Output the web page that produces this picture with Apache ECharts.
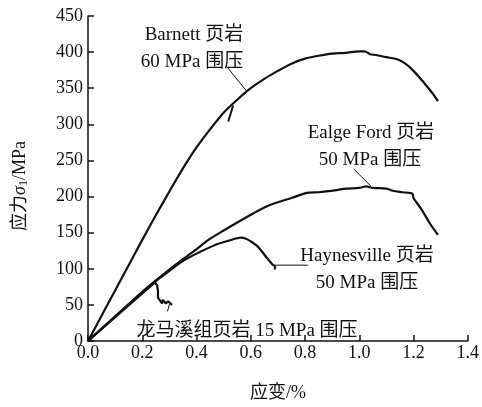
<!DOCTYPE html>
<html><head><meta charset="utf-8">
<script src="https://cdn.jsdelivr.net/npm/echarts@6/dist/echarts.min.js"></script>
<style>html,body{margin:0;padding:0;background:#fff}#c{width:482px;height:407px}</style>
</head><body><div id="c"></div>
<script>
var xTicks = ['0.0','0.2','0.4','0.6','0.8','1.0','1.2','1.4'];
var yTicks = [0,50,100,150,200,250,300,350,400,450];

var barnettX = [0,0.05,0.1,0.15,0.2,0.25,0.3,0.35,0.4,0.45,0.5,0.55,0.6,0.65,0.7,0.75,0.8,0.85,0.9,0.95,1.0,1.02,1.04,1.06,1.1,1.14,1.17,1.2,1.24,1.27,1.29];
var barnettY = [0,35,70,105,140,174,207,239,268,293,316,334,350,363,374,384,391,395,398,399,401,401,397,396,393,390,384,374,357,343,332];
var barnettHookX = [0.535,0.517];
var barnettHookY = [326,304];

var eagleX = [0,0.05,0.1,0.15,0.2,0.25,0.3,0.342,0.393,0.444,0.5,0.578,0.662,0.75,0.807,0.85,0.916,0.95,1.0,1.025,1.05,1.1,1.124,1.16,1.196,1.2,1.23,1.26,1.29];
var eagleY = [0,17,34,51,68,84,99,111,125,140,153,170,187,198,205,206,209,211,212,214,212,211,208,206,204,198,182,163,147];

var hayX = [0,0.1,0.2,0.25,0.3,0.342,0.4,0.469,0.52,0.564,0.58,0.6,0.625,0.662,0.68,0.69,0.688];
var hayY = [0,34,67,83,97,109,121,133,139,143,142,138,131,114,106,103,99];

var lmxX = [0,0.1,0.2,0.247,0.255,0.258,0.258,0.273,0.276,0.287,0.295,0.31];
var lmxY = [0,33,66,81,77,69,60,52,57,52,55,50];

var leaderBarnettX = [0.509,0.585], leaderBarnettY = [381,346];
var leaderEagleX = [0.98,1.044], leaderEagleY = [238,214];
var leaderHayX = [0.69,0.81], leaderHayY = [105,105];
var leaderLmxX = [0.3,0.293], leaderLmxY = [51,41];

function pairs(xs, ys){ return xs.map(function(x,i){return [x, ys[i]];}); }

var FONT = '"Liberation Serif","Times New Roman","Noto Sans CJK SC",serif';
var chart = echarts.init(document.getElementById('c'));
function line(xs, ys, w, sm){
  return {type:'line', data:pairs(xs,ys), showSymbol:false, symbol:'none', smooth:sm||false,
    lineStyle:{color:'#111', width:w}, silent:true, animation:false};
}
function txt(t, x, y){
  return {type:'text', style:{text:t, x:x, y:y, align:'center', verticalAlign:'middle',
    font:'19px ' + FONT, fill:'#111'}};
}
chart.setOption({
  animation:false,
  backgroundColor:'#fff',
  grid:{left:88, right:9, top:16, bottom:62, containLabel:false},
  xAxis:{type:'value', min:0, max:1.4, interval:0.2,
    name:'应变/%', nameLocation:'middle', nameGap:43,
    nameTextStyle:{fontFamily:FONT, fontSize:18, color:'#111'},
    axisLine:{lineStyle:{color:'#111', width:1.5}},
    axisTick:{inside:true, length:6, lineStyle:{color:'#111', width:1.5}},
    axisLabel:{fontFamily:FONT, fontSize:18, color:'#111', margin:3,
      formatter:function(v){ var i=Math.round(v/0.2); return xTicks[i]; }},
    splitLine:{show:false}},
  yAxis:{type:'value', min:0, max:450, interval:50,
    axisLine:{show:true, lineStyle:{color:'#111', width:1.5}},
    axisTick:{show:true, inside:true, length:6, lineStyle:{color:'#111', width:1.5}},
    axisLabel:{fontFamily:FONT, fontSize:18, color:'#111', margin:5,
      formatter:function(v){ return String(yTicks[Math.round(v/50)]); }},
    splitLine:{show:false}},
  series:[
    line(barnettX, barnettY, 2.2, 0.3),
    line(barnettHookX, barnettHookY, 2),
    line(eagleX, eagleY, 2.2, 0.3),
    line(hayX, hayY, 2.2, 0.3),
    line(lmxX, lmxY, 2.2),
    line(leaderBarnettX, leaderBarnettY, 1),
    line(leaderEagleX, leaderEagleY, 1),
    line(leaderHayX, leaderHayY, 1),
    line(leaderLmxX, leaderLmxY, 1)
  ],
  graphic:[
    txt('Barnett 页岩', 194, 35),
    txt('60 MPa 围压', 192, 62),
    txt('Ealge Ford 页岩', 371, 133),
    txt('50 MPa 围压', 370, 160),
    txt('Haynesville 页岩', 367, 256),
    txt('50 MPa 围压', 367, 283),
    txt('龙马溪组页岩 15 MPa 围压', 247, 331),
    {type:'text', x:20, y:186, rotation:Math.PI/2,
      style:{text:'{a|应力}{s|σ}{b|1}{a|/MPa}', align:'center', verticalAlign:'middle',
        rich:{a:{fontFamily:FONT,fontSize:18,fill:'#111',color:'#111'},
              s:{fontFamily:FONT,fontSize:18,fontStyle:'italic',fill:'#111',color:'#111'},
              b:{fontFamily:FONT,fontSize:12,fill:'#111',color:'#111',padding:[8,0,0,0]}}}}
  ]
});
</script></body></html>
